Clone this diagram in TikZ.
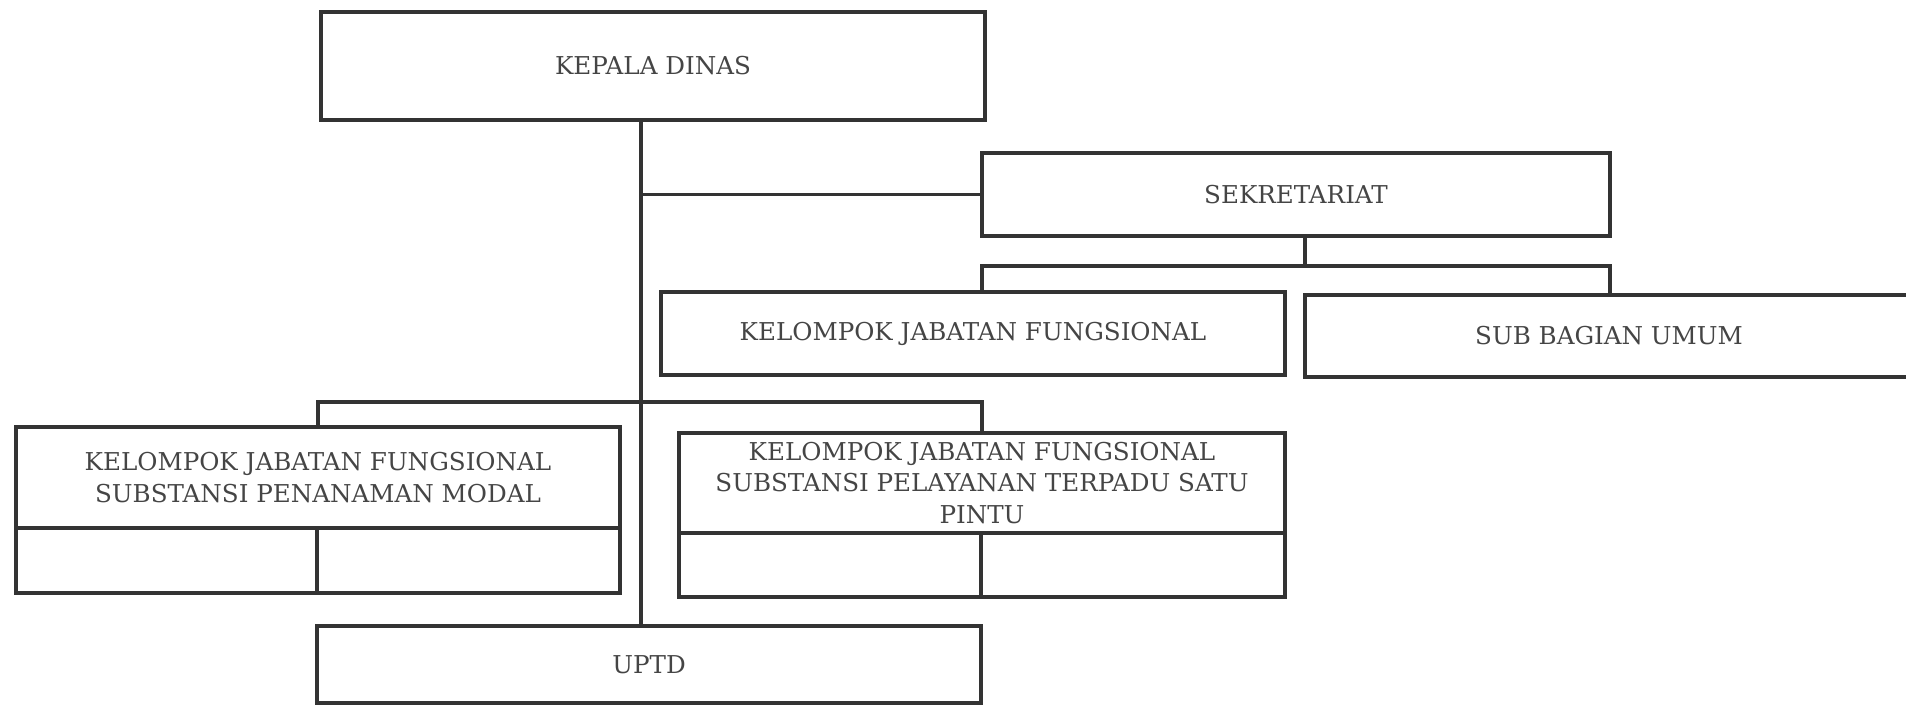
\documentclass[tikz,border=0pt]{standalone}
\usepackage{fontspec}
\setmainfont{DejaVu Serif}
\usetikzlibrary{positioning}

\definecolor{inkline}{HTML}{333333}
\definecolor{inktext}{HTML}{454545}

\tikzset{
  unit/.style={draw=inkline, line width=2.2pt, rectangle, inner sep=0pt,
    align=center, text=inktext, font=\fontsize{14}{18}\selectfont},
  boxsize/.style 2 args={minimum width=#1*0.02cm, minimum height=#2*0.02cm},
  link/.style={draw=inkline, line width=1.8pt},
}

\begin{document}
\begin{tikzpicture}[x=0.02cm, y=-0.02cm]

    % Fix the page to the size of the sheet
    \useasboundingbox (0,0) rectangle (1906,707);
    \clip (0,0) rectangle (1906,707);

    % First the head and the secretariat branch
    \node[unit, boxsize={664}{108}] (kepala) at (653,66) {KEPALA DINAS};
    \node[unit, boxsize={628}{83}] (sekret) at (1296,194.5) {SEKRETARIAT};
    \node[unit, boxsize={624}{83}] (jafung) at (973,333.5) {KELOMPOK JABATAN FUNGSIONAL};
    \node[unit, boxsize={608}{82}] (subbag) at (1609,336) {SUB BAGIAN UMUM};

    % Next, the two substance groups, each with two empty cells below
    \node[unit, boxsize={604}{101}] (pmtop) at (318,477.5)
      {KELOMPOK JABATAN FUNGSIONAL\\SUBSTANSI PENANAMAN MODAL};
    \node[unit, boxsize={301}{65}] (pmleft) at (166.5,560.5) {};
    \node[unit, boxsize={303}{65}] (pmright) at (468.5,560.5) {};

    \node[unit, boxsize={606}{100}] (ptsptop) at (982,483)
      {KELOMPOK JABATAN FUNGSIONAL\\SUBSTANSI PELAYANAN TERPADU SATU\\PINTU};
    \node[unit, boxsize={302}{64}] (ptspleft) at (830,565) {};
    \node[unit, boxsize={304}{64}] (ptspright) at (1133,565) {};

    % The technical unit at the bottom
    \node[unit, boxsize={664}{77}] (uptd) at (649,664.5) {UPTD};

    % Define the points where the lines fork
    \coordinate (trunk) at (641,0);
    \coordinate (sekfork) at (1305,266);
    \coordinate (forkA) at (982,266);
    \coordinate (forkB) at (1610,266);
    \coordinate (forkC) at (318,402);
    \coordinate (forkD) at (982,402);

    % Main line from the head down to the UPTD
    \draw[link] (kepala.south -| trunk) -- (uptd.north -| trunk);
    \draw[link] (trunk |- sekret.west) -- (sekret.west);

    % Secretariat and its two children
    \draw[link] (sekret.south -| sekfork) -- (sekfork);
    \draw[link] (jafung.north -| forkA) -- (forkA) -- (forkB) -- (subbag.north -| forkB);

    % The two substance groups
    \draw[link] (pmtop.north -| forkC) -- (forkC) -- (forkD) -- (ptsptop.north -| forkD);
  \end{tikzpicture}
\end{document}
